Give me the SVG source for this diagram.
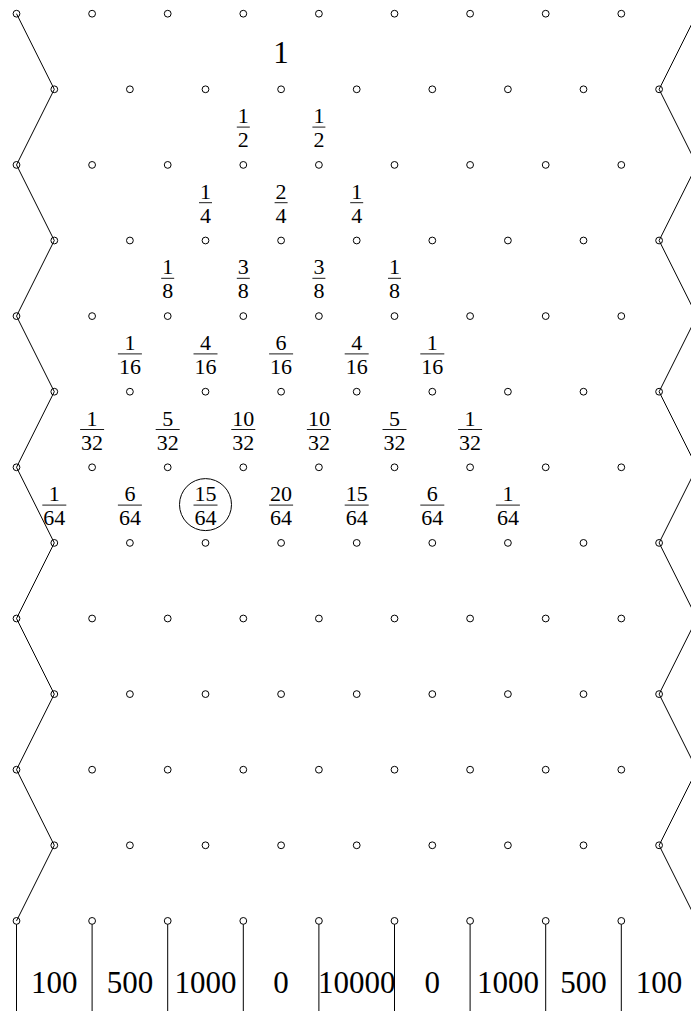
<svg xmlns="http://www.w3.org/2000/svg" width="691" height="1011" viewBox="0 0 691 1011">
<style>
.peg{fill:none;stroke:#000;stroke-width:1}
.ln{fill:none;stroke:#000;stroke-width:1}
.bar{stroke:#000;stroke-width:0.9}
.fr{font-family:"Liberation Serif",serif;font-size:22px;text-anchor:middle;fill:#000}
.big{font-family:"Liberation Serif",serif;font-size:31px;text-anchor:middle;fill:#000}
</style>
<defs>
<circle id="p" r="3.4" class="peg"/>
</defs>
<rect width="691" height="1011" fill="#fff"/>
<g id="connectors">
<polyline class="ln" points="16.5,13.7 54.3,89.3 16.5,164.9 54.3,240.5 16.5,316.1 54.3,391.7 16.5,467.3 54.3,542.9 16.5,618.5 54.3,694.1 16.5,769.7 54.3,845.3 16.5,920.9"/>
<polyline class="ln" points="696.9,13.7 659.1,89.3 696.9,164.9 659.1,240.5 696.9,316.1 659.1,391.7 696.9,467.3 659.1,542.9 696.9,618.5 659.1,694.1 696.9,769.7 659.1,845.3 696.9,920.9"/>
<path class="ln" d="M16.5,924.3V1011M92.1,924.3V1011M167.7,924.3V1011M243.3,924.3V1011M318.9,924.3V1011M394.5,924.3V1011M470.1,924.3V1011M545.7,924.3V1011M621.3,924.3V1011"/>
</g>
<g id="pegs">
<g id="row0"><use href="#p" x="16.5" y="13.7"/><use href="#p" x="92.1" y="13.7"/><use href="#p" x="167.7" y="13.7"/><use href="#p" x="243.3" y="13.7"/><use href="#p" x="318.9" y="13.7"/><use href="#p" x="394.5" y="13.7"/><use href="#p" x="470.1" y="13.7"/><use href="#p" x="545.7" y="13.7"/><use href="#p" x="621.3" y="13.7"/></g>
<g id="row1"><use href="#p" x="54.3" y="89.3"/><use href="#p" x="129.9" y="89.3"/><use href="#p" x="205.5" y="89.3"/><use href="#p" x="281.1" y="89.3"/><use href="#p" x="356.7" y="89.3"/><use href="#p" x="432.3" y="89.3"/><use href="#p" x="507.9" y="89.3"/><use href="#p" x="583.5" y="89.3"/><use href="#p" x="659.1" y="89.3"/></g>
<g id="row2"><use href="#p" x="16.5" y="164.9"/><use href="#p" x="92.1" y="164.9"/><use href="#p" x="167.7" y="164.9"/><use href="#p" x="243.3" y="164.9"/><use href="#p" x="318.9" y="164.9"/><use href="#p" x="394.5" y="164.9"/><use href="#p" x="470.1" y="164.9"/><use href="#p" x="545.7" y="164.9"/><use href="#p" x="621.3" y="164.9"/></g>
<g id="row3"><use href="#p" x="54.3" y="240.5"/><use href="#p" x="129.9" y="240.5"/><use href="#p" x="205.5" y="240.5"/><use href="#p" x="281.1" y="240.5"/><use href="#p" x="356.7" y="240.5"/><use href="#p" x="432.3" y="240.5"/><use href="#p" x="507.9" y="240.5"/><use href="#p" x="583.5" y="240.5"/><use href="#p" x="659.1" y="240.5"/></g>
<g id="row4"><use href="#p" x="16.5" y="316.1"/><use href="#p" x="92.1" y="316.1"/><use href="#p" x="167.7" y="316.1"/><use href="#p" x="243.3" y="316.1"/><use href="#p" x="318.9" y="316.1"/><use href="#p" x="394.5" y="316.1"/><use href="#p" x="470.1" y="316.1"/><use href="#p" x="545.7" y="316.1"/><use href="#p" x="621.3" y="316.1"/></g>
<g id="row5"><use href="#p" x="54.3" y="391.7"/><use href="#p" x="129.9" y="391.7"/><use href="#p" x="205.5" y="391.7"/><use href="#p" x="281.1" y="391.7"/><use href="#p" x="356.7" y="391.7"/><use href="#p" x="432.3" y="391.7"/><use href="#p" x="507.9" y="391.7"/><use href="#p" x="583.5" y="391.7"/><use href="#p" x="659.1" y="391.7"/></g>
<g id="row6"><use href="#p" x="16.5" y="467.3"/><use href="#p" x="92.1" y="467.3"/><use href="#p" x="167.7" y="467.3"/><use href="#p" x="243.3" y="467.3"/><use href="#p" x="318.9" y="467.3"/><use href="#p" x="394.5" y="467.3"/><use href="#p" x="470.1" y="467.3"/><use href="#p" x="545.7" y="467.3"/><use href="#p" x="621.3" y="467.3"/></g>
<g id="row7"><use href="#p" x="54.3" y="542.9"/><use href="#p" x="129.9" y="542.9"/><use href="#p" x="205.5" y="542.9"/><use href="#p" x="281.1" y="542.9"/><use href="#p" x="356.7" y="542.9"/><use href="#p" x="432.3" y="542.9"/><use href="#p" x="507.9" y="542.9"/><use href="#p" x="583.5" y="542.9"/><use href="#p" x="659.1" y="542.9"/></g>
<g id="row8"><use href="#p" x="16.5" y="618.5"/><use href="#p" x="92.1" y="618.5"/><use href="#p" x="167.7" y="618.5"/><use href="#p" x="243.3" y="618.5"/><use href="#p" x="318.9" y="618.5"/><use href="#p" x="394.5" y="618.5"/><use href="#p" x="470.1" y="618.5"/><use href="#p" x="545.7" y="618.5"/><use href="#p" x="621.3" y="618.5"/></g>
<g id="row9"><use href="#p" x="54.3" y="694.1"/><use href="#p" x="129.9" y="694.1"/><use href="#p" x="205.5" y="694.1"/><use href="#p" x="281.1" y="694.1"/><use href="#p" x="356.7" y="694.1"/><use href="#p" x="432.3" y="694.1"/><use href="#p" x="507.9" y="694.1"/><use href="#p" x="583.5" y="694.1"/><use href="#p" x="659.1" y="694.1"/></g>
<g id="row10"><use href="#p" x="16.5" y="769.7"/><use href="#p" x="92.1" y="769.7"/><use href="#p" x="167.7" y="769.7"/><use href="#p" x="243.3" y="769.7"/><use href="#p" x="318.9" y="769.7"/><use href="#p" x="394.5" y="769.7"/><use href="#p" x="470.1" y="769.7"/><use href="#p" x="545.7" y="769.7"/><use href="#p" x="621.3" y="769.7"/></g>
<g id="row11"><use href="#p" x="54.3" y="845.3"/><use href="#p" x="129.9" y="845.3"/><use href="#p" x="205.5" y="845.3"/><use href="#p" x="281.1" y="845.3"/><use href="#p" x="356.7" y="845.3"/><use href="#p" x="432.3" y="845.3"/><use href="#p" x="507.9" y="845.3"/><use href="#p" x="583.5" y="845.3"/><use href="#p" x="659.1" y="845.3"/></g>
<g id="row12"><use href="#p" x="16.5" y="920.9"/><use href="#p" x="92.1" y="920.9"/><use href="#p" x="167.7" y="920.9"/><use href="#p" x="243.3" y="920.9"/><use href="#p" x="318.9" y="920.9"/><use href="#p" x="394.5" y="920.9"/><use href="#p" x="470.1" y="920.9"/><use href="#p" x="545.7" y="920.9"/><use href="#p" x="621.3" y="920.9"/></g>
</g>
<g id="p0"><text class="big" x="281.1" y="62.7">1</text></g>
<g id="p1">
<g transform="translate(243.3,127.1)"><text class="fr" y="-4">1</text><line class="bar" x1="-6.5" x2="6.5" y1="0" y2="0"/><text class="fr" y="20">2</text></g>
<g transform="translate(318.9,127.1)"><text class="fr" y="-4">1</text><line class="bar" x1="-6.5" x2="6.5" y1="0" y2="0"/><text class="fr" y="20">2</text></g>
</g>
<g id="p2">
<g transform="translate(205.5,202.7)"><text class="fr" y="-4">1</text><line class="bar" x1="-6.5" x2="6.5" y1="0" y2="0"/><text class="fr" y="20">4</text></g>
<g transform="translate(281.1,202.7)"><text class="fr" y="-4">2</text><line class="bar" x1="-6.5" x2="6.5" y1="0" y2="0"/><text class="fr" y="20">4</text></g>
<g transform="translate(356.7,202.7)"><text class="fr" y="-4">1</text><line class="bar" x1="-6.5" x2="6.5" y1="0" y2="0"/><text class="fr" y="20">4</text></g>
</g>
<g id="p3">
<g transform="translate(167.7,278.3)"><text class="fr" y="-4">1</text><line class="bar" x1="-6.5" x2="6.5" y1="0" y2="0"/><text class="fr" y="20">8</text></g>
<g transform="translate(243.3,278.3)"><text class="fr" y="-4">3</text><line class="bar" x1="-6.5" x2="6.5" y1="0" y2="0"/><text class="fr" y="20">8</text></g>
<g transform="translate(318.9,278.3)"><text class="fr" y="-4">3</text><line class="bar" x1="-6.5" x2="6.5" y1="0" y2="0"/><text class="fr" y="20">8</text></g>
<g transform="translate(394.5,278.3)"><text class="fr" y="-4">1</text><line class="bar" x1="-6.5" x2="6.5" y1="0" y2="0"/><text class="fr" y="20">8</text></g>
</g>
<g id="p4">
<g transform="translate(129.9,353.9)"><text class="fr" y="-4">1</text><line class="bar" x1="-12" x2="12" y1="0" y2="0"/><text class="fr" y="20">16</text></g>
<g transform="translate(205.5,353.9)"><text class="fr" y="-4">4</text><line class="bar" x1="-12" x2="12" y1="0" y2="0"/><text class="fr" y="20">16</text></g>
<g transform="translate(281.1,353.9)"><text class="fr" y="-4">6</text><line class="bar" x1="-12" x2="12" y1="0" y2="0"/><text class="fr" y="20">16</text></g>
<g transform="translate(356.7,353.9)"><text class="fr" y="-4">4</text><line class="bar" x1="-12" x2="12" y1="0" y2="0"/><text class="fr" y="20">16</text></g>
<g transform="translate(432.3,353.9)"><text class="fr" y="-4">1</text><line class="bar" x1="-12" x2="12" y1="0" y2="0"/><text class="fr" y="20">16</text></g>
</g>
<g id="p5">
<g transform="translate(92.1,429.5)"><text class="fr" y="-4">1</text><line class="bar" x1="-12" x2="12" y1="0" y2="0"/><text class="fr" y="20">32</text></g>
<g transform="translate(167.7,429.5)"><text class="fr" y="-4">5</text><line class="bar" x1="-12" x2="12" y1="0" y2="0"/><text class="fr" y="20">32</text></g>
<g transform="translate(243.3,429.5)"><text class="fr" y="-4">10</text><line class="bar" x1="-12" x2="12" y1="0" y2="0"/><text class="fr" y="20">32</text></g>
<g transform="translate(318.9,429.5)"><text class="fr" y="-4">10</text><line class="bar" x1="-12" x2="12" y1="0" y2="0"/><text class="fr" y="20">32</text></g>
<g transform="translate(394.5,429.5)"><text class="fr" y="-4">5</text><line class="bar" x1="-12" x2="12" y1="0" y2="0"/><text class="fr" y="20">32</text></g>
<g transform="translate(470.1,429.5)"><text class="fr" y="-4">1</text><line class="bar" x1="-12" x2="12" y1="0" y2="0"/><text class="fr" y="20">32</text></g>
</g>
<g id="p6">
<g transform="translate(54.3,505.1)"><text class="fr" y="-4">1</text><line class="bar" x1="-12" x2="12" y1="0" y2="0"/><text class="fr" y="20">64</text></g>
<g transform="translate(129.9,505.1)"><text class="fr" y="-4">6</text><line class="bar" x1="-12" x2="12" y1="0" y2="0"/><text class="fr" y="20">64</text></g>
<g id="highlight" transform="translate(205.5,505.1)"><circle class="peg" r="26" cy="-0.5"/><text class="fr" y="-4">15</text><line class="bar" x1="-12" x2="12" y1="0" y2="0"/><text class="fr" y="20">64</text></g>
<g transform="translate(281.1,505.1)"><text class="fr" y="-4">20</text><line class="bar" x1="-12" x2="12" y1="0" y2="0"/><text class="fr" y="20">64</text></g>
<g transform="translate(356.7,505.1)"><text class="fr" y="-4">15</text><line class="bar" x1="-12" x2="12" y1="0" y2="0"/><text class="fr" y="20">64</text></g>
<g transform="translate(432.3,505.1)"><text class="fr" y="-4">6</text><line class="bar" x1="-12" x2="12" y1="0" y2="0"/><text class="fr" y="20">64</text></g>
<g transform="translate(507.9,505.1)"><text class="fr" y="-4">1</text><line class="bar" x1="-12" x2="12" y1="0" y2="0"/><text class="fr" y="20">64</text></g>
</g>
<g id="payouts">
<text class="big" x="54.3" y="993">100</text>
<text class="big" x="129.9" y="993">500</text>
<text class="big" x="205.5" y="993">1000</text>
<text class="big" x="281.1" y="993">0</text>
<text class="big" x="356.7" y="993">10000</text>
<text class="big" x="432.3" y="993">0</text>
<text class="big" x="507.9" y="993">1000</text>
<text class="big" x="583.5" y="993">500</text>
<text class="big" x="659.1" y="993">100</text>
</g>
</svg>
